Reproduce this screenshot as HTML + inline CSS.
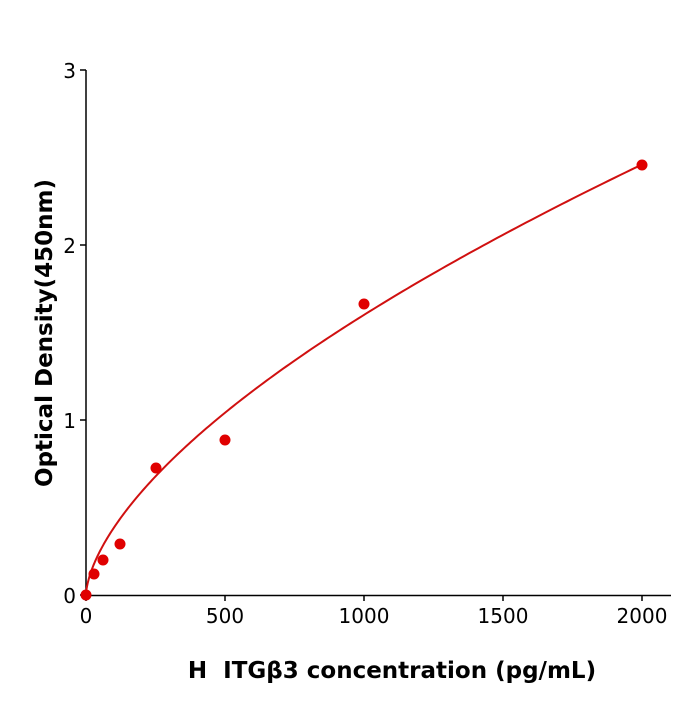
<!DOCTYPE html>
<html><head><meta charset="utf-8"><style>
html,body{margin:0;padding:0;background:#fff;}
svg text{font-family:"DejaVu Sans","Liberation Sans",sans-serif;fill:#000;}
</style></head><body>
<svg id="s" width="700" height="700" viewBox="0 0 700 700" xmlns="http://www.w3.org/2000/svg">
<g stroke="#000" stroke-width="1.5" fill="none">
<line x1="86" y1="70" x2="86" y2="596"/>
<line x1="85" y1="595.5" x2="671" y2="595.5"/>
<line x1="80" y1="70" x2="86" y2="70"/>
<line x1="80" y1="245" x2="86" y2="245"/>
<line x1="80" y1="420" x2="86" y2="420"/>
<line x1="80" y1="595" x2="86" y2="595"/>
<line x1="86" y1="595" x2="86" y2="601"/>
<line x1="225" y1="595" x2="225" y2="601"/>
<line x1="364" y1="595" x2="364" y2="601"/>
<line x1="503" y1="595" x2="503" y2="601"/>
<line x1="642" y1="595" x2="642" y2="601"/>
</g>
<g font-size="20" text-anchor="end">
<text x="76" y="78">3</text><text x="76" y="253">2</text><text x="76" y="428">1</text><text x="76" y="603">0</text>
</g>
<g font-size="20" text-anchor="middle">
<text x="86" y="623">0</text><text x="225" y="623">500</text><text x="364" y="623">1000</text><text x="503" y="623">1500</text><text x="642" y="623">2000</text>
</g>
<text x="392" y="678" font-size="23" font-weight="bold" text-anchor="middle" xml:space="preserve" style="white-space:pre">H  ITGβ3 concentration (pg/mL)</text>
<text transform="translate(52,333) rotate(-90)" font-size="23" font-weight="bold" text-anchor="middle">Optical Density(450nm)</text>
<path id="c" fill="none" stroke="#d01010" stroke-width="2"/>
<g fill="#e00000">
<circle cx="86" cy="595" r="5.5"/><circle cx="94" cy="574" r="5.5"/><circle cx="103" cy="560" r="5.5"/>
<circle cx="120" cy="544" r="5.5"/><circle cx="156" cy="468" r="5.5"/><circle cx="225" cy="440" r="5.5"/>
<circle cx="364" cy="304" r="5.5"/><circle cx="642" cy="165" r="5.5"/>
</g>
</svg>
<script>
var d="";for(var i=0;i<=200;i++){var x=2000*Math.pow(i/200,2);var y=2.46*Math.pow(x/2000,0.62);
d+=(i?"L":"M")+(86+x*0.278).toFixed(2)+" "+(595-y*175).toFixed(2);}
document.getElementById("c").setAttribute("d",d);
</script>
</body></html>
